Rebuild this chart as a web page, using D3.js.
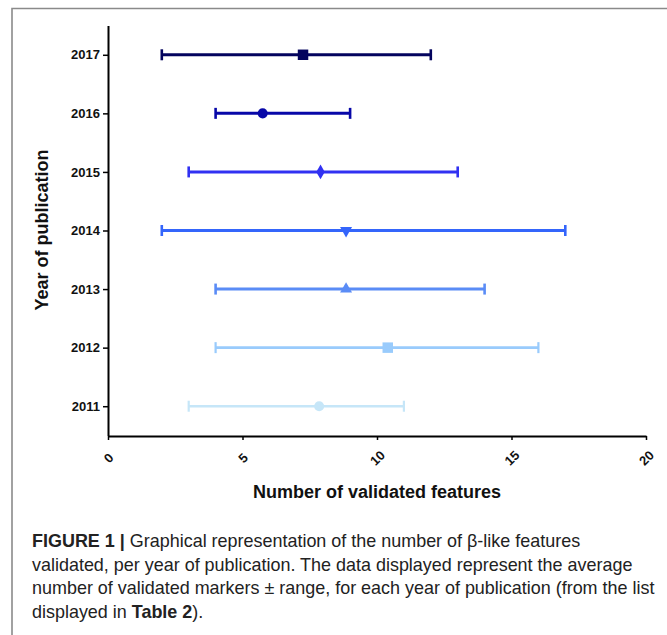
<!DOCTYPE html>
<html>
<head>
<meta charset="utf-8">
<script src="https://cdn.jsdelivr.net/npm/d3@7"></script>
<style>
  body { margin: 0; background: #fff; }
  svg { display: block; font-family: "Liberation Sans", Arial, sans-serif; }
</style>
</head>
<body>
<svg id="chart" width="667" height="635"></svg>
<script>
// values, one entry per year (bottom to top)
const years = [2011, 2012, 2013, 2014, 2015, 2016, 2017]
const means = [7.85, 10.4, 8.85, 8.85, 7.9, 5.75, 7.25]
const mins = [3, 4, 4, 2, 3, 4, 2]
const maxs = [11, 16, 14, 17, 13, 9, 12]
const colors = ['#c6e6f8', '#99cbfc', '#5a8cf6', '#3465fb', '#3131f2', '#0707a8', '#04045e']
const shapes = ['circle', 'square', 'triangle', 'triangleDown', 'diamond', 'circle', 'square']
const xTicks = [0, 5, 10, 15, 20]

const captionLines = [
  [['FIGURE 1 | ', true], ['Graphical representation of the number of \u03b2-like features', false]],
  [['validated, per year of publication. The data displayed represent the average', false]],
  [['number of validated markers \u00b1 range, for each year of publication (from the list', false]],
  [['displayed in ', false], ['Table 2', true], [').', false]],
]

let svg = d3.select('#chart')

// frame of the figure panel
svg.append('path')
  .attr('d', 'M12,635 L12,8.5 L667,8.5')
  .attr('fill', 'none')
  .attr('stroke', '#8a8a8a')
  .attr('stroke-width', 1.6)

let x = d3.scaleLinear().domain([0, 20]).range([108, 646])
let y = d3.scaleLinear().domain([2010.5, 2017.5]).range([435.5, 25.5])

let tickFont = function(sel) {
  sel
    .style('font-size', '13px')
    .style('font-weight', 'bold')
    .style('font-family', '"Liberation Sans", Arial, sans-serif')
    .attr('fill', '#111')
}

// y axis
let yAxis = svg.append('g')
  .attr('transform', 'translate(108,0)')
  .call(d3.axisLeft(y).tickValues(years).tickFormat(d3.format('d')).tickSize(5).tickSizeOuter(0))
yAxis.select('.domain').attr('stroke', '#000').attr('stroke-width', 2)
yAxis.selectAll('.tick line').attr('stroke', '#000').attr('stroke-width', 1.5)
yAxis.selectAll('.tick text').attr('x', -8).call(tickFont)

// x axis
let xAxis = svg.append('g')
  .attr('transform', 'translate(0,436)')
  .call(d3.axisBottom(x).tickValues(xTicks).tickSize(4).tickSizeOuter(0))
xAxis.select('.domain').attr('stroke', '#000').attr('stroke-width', 2)
xAxis.selectAll('.tick line').attr('stroke', '#000').attr('stroke-width', 1.5)
xAxis.selectAll('.tick text')
  .attr('y', 0)
  .attr('dy', '0.35em')
  .attr('text-anchor', 'middle')
  .attr('transform', 'translate(0,22) rotate(-45)')
  .call(tickFont)

// axis titles
svg.append('text')
  .attr('x', 377)
  .attr('y', 498)
  .attr('text-anchor', 'middle')
  .style('font-size', '18px')
  .style('font-weight', 'bold')
  .attr('fill', '#111')
  .text('Number of validated features')

svg.append('text')
  .attr('transform', 'translate(48,230) rotate(-90)')
  .attr('text-anchor', 'middle')
  .style('font-size', '18px')
  .style('font-weight', 'bold')
  .attr('fill', '#111')
  .text('Year of publication')

// error bars: mean with min-max range
let rows = svg.append('g').selectAll('g.row')
  .data(years)
  .enter()
  .append('g')
  .classed('row', true)
  .attr('stroke', (d, i) => colors[i])
  .attr('fill', (d, i) => colors[i])

rows.append('line')
  .attr('x1', (d, i) => x(mins[i]))
  .attr('x2', (d, i) => x(maxs[i]))
  .attr('y1', d => y(d))
  .attr('y2', d => y(d))
  .attr('stroke-width', (d, i) => (i < 2 ? 2.6 : 3))

rows.selectAll('line.cap')
  .data((d, i) => [{ v: mins[i], yr: d, i: i }, { v: maxs[i], yr: d, i: i }])
  .enter()
  .append('line')
  .classed('cap', true)
  .attr('x1', d => x(d.v))
  .attr('x2', d => x(d.v))
  .attr('y1', d => y(d.yr) - 5.5)
  .attr('y2', d => y(d.yr) + 5.5)
  .attr('stroke-width', d => (d.i < 2 ? 2.2 : 2.6))

let symbolFor = {
  circle: d3.symbol().type(d3.symbolCircle).size(80),
  square: d3.symbol().type(d3.symbolSquare).size(110),
  triangle: d3.symbol().type(d3.symbolTriangle).size(62),
  triangleDown: d3.symbol().type(d3.symbolTriangle).size(62),
  diamond: d3.symbol().type(d3.symbolDiamond).size(62),
}

rows.append('path')
  .attr('d', (d, i) => symbolFor[shapes[i]]())
  .attr('stroke', 'none')
  .attr('transform', (d, i) => {
    let t = 'translate(' + x(means[i]) + ',' + y(d) + ')'
    if (shapes[i] === 'triangleDown') t += ' rotate(180)'
    return t
  })

// caption
let caption = svg.append('g').attr('transform', 'translate(32,0)')
let captionText = caption.append('text')
  .style('font-size', '17.5px')
  .attr('fill', '#222')
captionLines.forEach(function(line, li) {
  line.forEach(function(part, pi) {
    let ts = captionText.append('tspan')
      .text(part[0])
      .style('font-weight', part[1] ? 'bold' : 'normal')
    if (pi === 0) ts.attr('x', 0).attr('y', 547 + li * 23.6)
  })
})
// the original typeface is condensed, squeeze to the measured width of line 3
let probe = caption.append('text')
  .style('font-size', '17.5px')
  .text(captionLines[2][0][0])
let natural = probe.node().getComputedTextLength()
probe.remove()
let sx = 623 / natural
captionText.attr('transform', 'scale(' + sx + ',1)')
</script>
</body>
</html>
